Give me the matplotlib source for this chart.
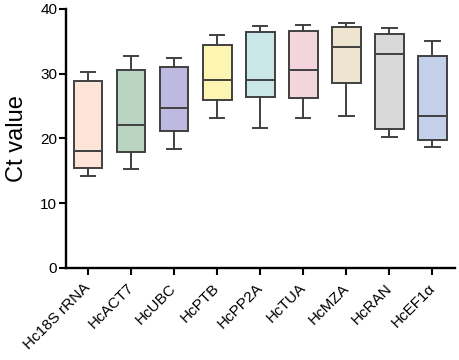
import matplotlib
matplotlib.use("Agg")
import matplotlib.pyplot as plt

plt.rcParams['font.family'] = ['Liberation Sans', 'DejaVu Sans']

genes = ["Hc18S rRNA", "HcACT7", "HcUBC", "HcPTB", "HcPP2A", "HcTUA", "HcMZA", "HcRAN", "HcEF1α"]
whis_low = [14.2, 15.3, 18.3, 23.2, 21.6, 23.2, 23.5, 20.2, 18.6]
q1 = [15.5, 17.9, 21.2, 26.0, 26.4, 26.2, 28.5, 21.5, 19.8]
median = [18.0, 22.0, 24.7, 29.0, 29.1, 30.6, 34.1, 33.0, 23.4]
q3 = [28.8, 30.6, 31.1, 34.5, 36.4, 36.6, 37.2, 36.1, 32.8]
whis_high = [30.2, 32.8, 32.5, 36.0, 37.4, 37.6, 37.9, 37.0, 35.0]
colors = ["#fde3d8", "#b9d4c1", "#bdb9e1", "#fdf6b2", "#c9e7e7", "#f4d4dd", "#eee5d0", "#d9d9d9", "#c4d0e9"]

stats = []
for g, lo, a, m, b, hi in zip(genes, whis_low, q1, median, q3, whis_high):
    stats.append(dict(label=g, whislo=lo, q1=a, med=m, q3=b, whishi=hi, fliers=[]))

fig = plt.figure(figsize=(4.59, 3.60), dpi=100)
ax = fig.add_axes([0.143, 0.256, 0.848, 0.719])

edge = "#404040"
bp = ax.bxp(stats, positions=range(len(genes)), widths=0.66, patch_artist=True,
            showfliers=False,
            boxprops=dict(edgecolor=edge, linewidth=1.4),
            medianprops=dict(color=edge, linewidth=1.4),
            whiskerprops=dict(color=edge, linewidth=1.4),
            capprops=dict(color=edge, linewidth=1.4))
for patch, c in zip(bp['boxes'], colors):
    patch.set_facecolor(c)

ax.set_xlim(-0.525, len(genes) - 1 + 0.52)
ax.set_ylim(0, 40)
ax.set_yticks([0, 10, 20, 30, 40])
ax.set_xticks(range(len(genes)))
ax.set_xticklabels(genes, rotation=45, ha='right', va='center', rotation_mode='anchor', fontsize=11)
ax.tick_params(axis='y', labelsize=11, length=5, width=1.5, pad=1)
ax.tick_params(axis='x', length=5, width=1.5, pad=8)
ax.set_ylabel("Ct value", fontsize=17, labelpad=9)

for s in ['top', 'right']:
    ax.spines[s].set_visible(False)
for s in ['left', 'bottom']:
    ax.spines[s].set_linewidth(1.7)

fig.savefig("out.png", dpi=100)
